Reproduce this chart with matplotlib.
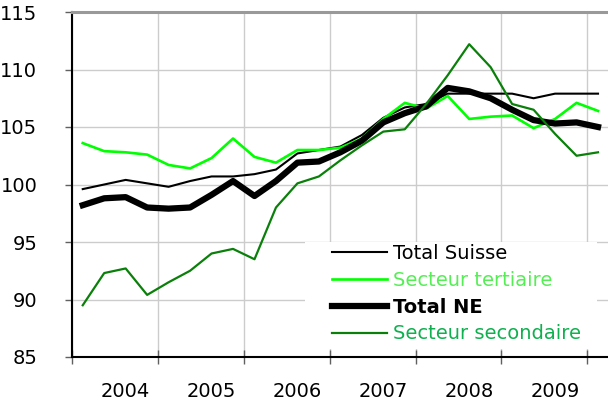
import matplotlib.pyplot as plt
from matplotlib.patches import Rectangle
import numpy as np

# quarterly values, 2004 Q1 .. 2010 Q1
total_suisse = [99.6, 100.0, 100.4, 100.1, 99.8, 100.3, 100.7, 100.7, 100.9, 101.3,
                102.7, 103.0, 103.3, 104.3, 105.8, 106.7, 107.0, 107.9, 107.9, 107.9,
                107.9, 107.5, 107.9, 107.9, 107.9]
secteur_tertiaire = [103.6, 102.9, 102.8, 102.6, 101.7, 101.4, 102.3, 104.0, 102.4, 101.9,
                     103.0, 103.0, 103.2, 104.0, 105.7, 107.1, 106.6, 107.7, 105.7, 105.9,
                     106.0, 104.9, 105.7, 107.1, 106.4]
total_ne = [98.2, 98.8, 98.9, 98.0, 97.9, 98.0, 99.1, 100.3, 99.0, 100.3,
            101.9, 102.0, 102.8, 103.8, 105.4, 106.2, 106.8, 108.4, 108.1, 107.5,
            106.5, 105.6, 105.3, 105.4, 105.0]
secteur_secondaire = [89.5, 92.3, 92.7, 90.4, 91.5, 92.5, 94.0, 94.4, 93.5, 98.0,
                      100.1, 100.7, 102.1, 103.4, 104.6, 104.8, 107.0, 109.5, 112.2, 110.2,
                      107.0, 106.5, 104.4, 102.5, 102.8]
years = ["2004", "2005", "2006", "2007", "2008", "2009"]

plt.rcParams['font.family'] = ['DejaVu Sans']

fig = plt.figure(figsize=(6.08, 4.03), dpi=100)
ax = fig.add_axes([72/608, 1-357/403, 1-72/608, 345/403])

x = np.arange(len(total_ne))
ax.plot(x, total_suisse, color='black', lw=1.5, label='Total Suisse', zorder=3)
ax.plot(x, secteur_tertiaire, color='#00ff00', lw=1.9, label='Secteur tertiaire', zorder=3)
ax.plot(x, total_ne, color='black', lw=4.5, label='Total NE', zorder=3)
ax.plot(x, secteur_secondaire, color='#0a800a', lw=1.6, label='Secteur secondaire', zorder=3)

ax.set_xlim(-0.465, (608-82)/21.5)
ax.set_ylim(85, 115)
ax.set_yticks(np.arange(85, 116, 5))
ax.tick_params(axis='y', labelsize=14, length=5, width=1, pad=20, color='#606060')

ax.set_xticks(np.arange(-0.5, len(x), 4))
ax.set_xticklabels([])
ax.set_xticks(np.arange(2, len(x), 4), minor=True)
ax.set_xticklabels(years, minor=True)
ax.tick_params(axis='x', which='major', direction='inout', length=10, width=1, color='#606060')
ax.tick_params(axis='x', which='minor', length=0, labelsize=14, pad=18)

ax.set_axisbelow(True)
ax.grid(True, which='major', color='#cccccc', lw=1)

for s in ['left', 'bottom']:
    ax.spines[s].set_color('black')
    ax.spines[s].set_linewidth(1.5)
ax.spines['top'].set_color('#999999')
ax.spines['top'].set_linewidth(2.2)
ax.spines['right'].set_visible(False)

# white area behind legend
ax.add_patch(Rectangle(((305-72)/536, 8/345), (597-305)/536, (349-242)/345,
                       transform=ax.transAxes, facecolor='white', edgecolor='none', zorder=1))

leg = ax.legend(loc='upper left', bbox_to_anchor=(332/608, 1-244/403),
                bbox_transform=fig.transFigure, frameon=False, fontsize=14,
                borderpad=0, borderaxespad=0, handlelength=2.85, handletextpad=0.3,
                labelspacing=0.4)
text_colors = ['black', '#55ee55', 'black', '#10b050']
for t, c in zip(leg.get_texts(), text_colors):
    t.set_color(c)
leg.get_texts()[2].set_fontweight('bold')

plt.savefig("out.png", dpi=100)
